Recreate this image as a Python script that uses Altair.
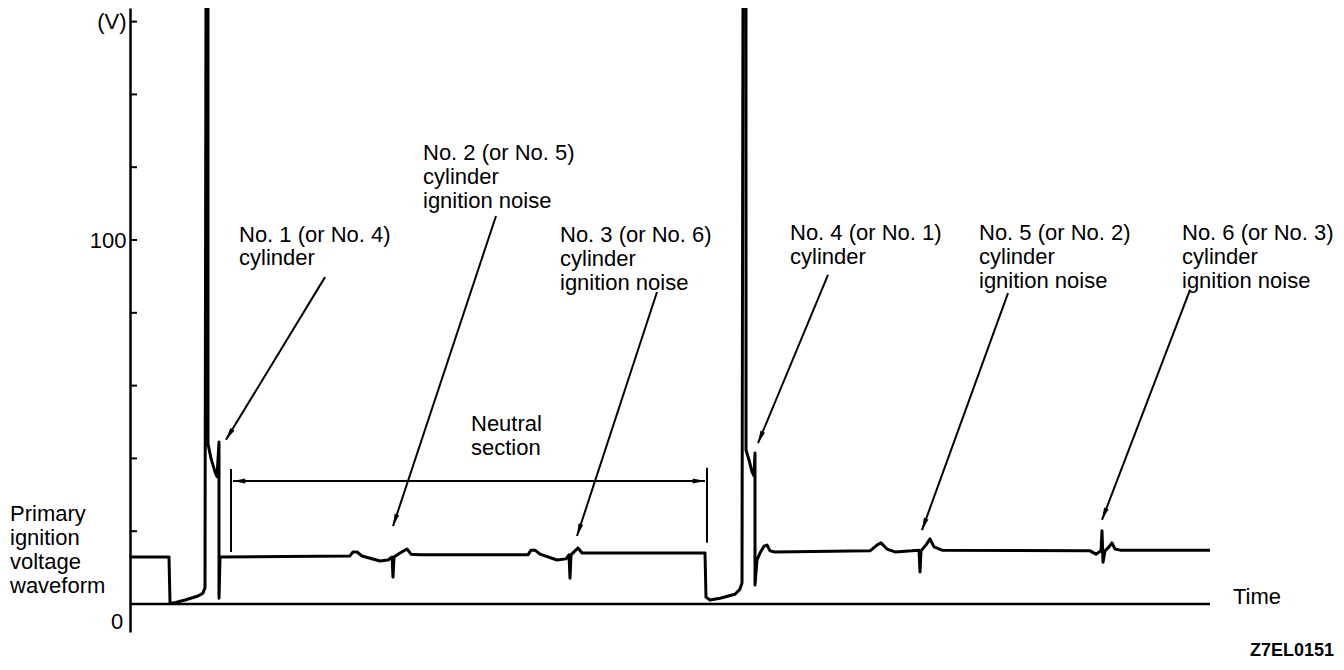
import math
import altair as alt
import pandas as pd

# ---------------- data (time in arbitrary units, voltage in V) ----------------
wave_t = [0, 39, 40, 43, 55, 68, 73, 75, 76, 78, 78, 81, 85, 87, 89, 89, 90,
          92, 220, 223, 227, 232, 250, 258, 262, 263, 264, 270, 277, 281, 290,
          398, 401, 405, 410, 427, 436, 439, 440, 441, 445, 448, 452, 460,
          575, 576, 580, 590, 605, 610, 612, 613, 616, 616, 619, 622, 624, 625, 625,
          627, 630, 634, 637, 640, 645,
          740, 747, 751, 757, 765, 782, 789, 790, 791, 796, 800, 804, 812,
          960, 966, 971, 972, 973, 975, 979, 982, 985, 990, 1080]
wave_v = [12.9, 12.9, 0.5, 0.2, 1.1, 2.2, 3.0, 4.5, 170, 170, 44.0, 40.0, 36.3, 35.0, 44.5, 1.6, 12.9,
          12.9, 13.2, 14.3, 14.3, 13.2, 11.8, 12.1, 12.9, 7.4, 12.9, 14.0, 15.1, 13.7, 13.5,
          13.5, 14.8, 14.8, 13.7, 12.1, 12.4, 13.5, 7.1, 13.5, 14.6, 15.4, 14.0, 14.0,
          14.0, 1.9, 1.1, 1.6, 2.7, 4.1, 5.8, 170, 170, 42.3, 39.6, 36.3, 35.2, 41.5, 5.2,
          12.1, 14.0, 15.9, 16.2, 14.6, 14.3,
          14.6, 16.2, 16.8, 15.1, 14.3, 14.6, 14.8, 8.8, 14.6, 16.2, 17.9, 15.7, 14.8,
          14.6, 13.7, 14.6, 20.1, 11.5, 14.6, 15.7, 16.8, 15.1, 14.8, 14.8]

y_tick_values = [20, 40, 60, 80, 100, 120, 140, 160]
y_label_values = [100, 160]

# leader arrows: start (t0, v0) -> tip (t1, v1)
arrow_t0 = [195, 366, 527, 698, 878, 1060]
arrow_v0 = [89.8, 106.6, 85.7, 90.4, 85.4, 86.3]
arrow_t1 = [96, 263, 447, 628, 792, 972]
arrow_v1 = [45.1, 21.4, 18.7, 44.2, 20.3, 23.1]

# neutral section dimension
neutral_t = [101, 577]
neutral_v_top = [37.1, 37.4]
neutral_v_bot = [14.3, 16.8]
neutral_level = 33.8
neutral_arrow_t = [103, 575]

# annotation text lines
label_text = ["No. 1 (or No. 4)", "cylinder",
              "No. 2 (or No. 5)", "cylinder", "ignition noise",
              "No. 3 (or No. 6)", "cylinder", "ignition noise",
              "Neutral", "section",
              "No. 4 (or No. 1)", "cylinder",
              "No. 5 (or No. 2)", "cylinder", "ignition noise",
              "No. 6 (or No. 3)", "cylinder", "ignition noise",
              "Primary", "ignition", "voltage", "waveform",
              "Time"]
label_t = [109, 109,
           293, 293, 293,
           430, 430, 430,
           341, 341,
           660, 660,
           849, 849, 849,
           1052, 1052, 1052,
           -120, -120, -120, -120,
           1103]
label_v = [101.4, 95.1,
           123.9, 117.3, 110.7,
           101.4, 94.8, 88.2,
           49.5, 42.9,
           101.9, 95.3,
           101.9, 95.3, 88.7,
           101.9, 95.3, 88.7,
           24.7, 18.1, 11.5, 4.9,
           1.9]

time_end = 1080

# ---------------- layout ----------------
W, H = 1206, 624
T_DOM = [0, 1206]
V_DOM = [-7.69, 163.74]
sx = W / (T_DOM[1] - T_DOM[0])
sy = H / (V_DOM[1] - V_DOM[0])

FONT = "Liberation Sans"
FS = 22
xs = alt.Scale(domain=T_DOM, nice=False, zero=False)
ys = alt.Scale(domain=V_DOM, nice=False, zero=False)
yaxis = alt.Axis(values=y_label_values, ticks=False, grid=False, title=None,
                 labelExpr="datum.value == 160 ? '(V)' : datum.label",
                 domainColor="black", domainWidth=2.5, labelColor="black",
                 labelFont=FONT, labelFontSize=FS, labelPadding=4)


def X(f):
    return alt.X(f, type="quantitative", scale=xs, axis=None)


def Y(f):
    return alt.Y(f, type="quantitative", scale=ys, axis=yaxis)


def head_angle(t0, v0, t1, v1):
    dx = (t1 - t0) * sx
    dy = -(v1 - v0) * sy
    return (math.degrees(math.atan2(dx, -dy)) + 360) % 360


wave_df = pd.DataFrame({"t": wave_t, "v": wave_v, "i": range(len(wave_t))})
wave = alt.Chart(wave_df).mark_line(color="black", strokeWidth=3, clip=True,
                                    strokeJoin="round").encode(
    x=X("t"), y=Y("v"), order=alt.Order("i:Q"))

time_df = pd.DataFrame({"t": [0], "t2": [time_end], "v": [0]})
time_line = alt.Chart(time_df).mark_rule(color="black", strokeWidth=2.5).encode(
    x=X("t"), x2="t2", y=Y("v"))

tick_df = pd.DataFrame({"t": [0] * len(y_tick_values), "t2": [7] * len(y_tick_values),
                        "v": y_tick_values})
ticks = alt.Chart(tick_df).mark_rule(color="black", strokeWidth=2).encode(
    x=X("t"), x2="t2", y=Y("v"))

arrow_df = pd.DataFrame({"t0": arrow_t0, "v0": arrow_v0, "t1": arrow_t1, "v1": arrow_v1})
arrow_lines = alt.Chart(arrow_df).mark_rule(color="black", strokeWidth=2).encode(
    x=X("t0"), y=Y("v0"), x2="t1", y2="v1")

heads_t = list(arrow_t1) + neutral_arrow_t
heads_v = list(arrow_v1) + [neutral_level, neutral_level]
heads_a = [head_angle(a, b, c, d) for a, b, c, d in zip(arrow_t0, arrow_v0, arrow_t1, arrow_v1)]
heads_a += [270, 90]
head_df = pd.DataFrame({"t": heads_t, "v": heads_v, "a": heads_a})
heads = alt.Chart(head_df).mark_point(
    shape="M0,0L0.4,2L-0.4,2Z", filled=True, size=150, color="black", opacity=1,
    strokeWidth=0).encode(x=X("t"), y=Y("v"), angle=alt.Angle("a:Q", scale=None))

ext_df = pd.DataFrame({"t": neutral_t, "v": neutral_v_top, "v2": neutral_v_bot})
ext = alt.Chart(ext_df).mark_rule(color="black", strokeWidth=2).encode(
    x=X("t"), y=Y("v"), y2="v2")

dim_df = pd.DataFrame({"t": [neutral_arrow_t[0]], "t2": [neutral_arrow_t[1]], "v": [neutral_level]})
dim = alt.Chart(dim_df).mark_rule(color="black", strokeWidth=2).encode(
    x=X("t"), x2="t2", y=Y("v"))

text_df = pd.DataFrame({"t": label_t, "v": label_v, "s": label_text})
texts = alt.Chart(text_df).mark_text(align="left", baseline="middle", font=FONT,
                                     fontSize=FS, color="black").encode(
    x=X("t"), y=Y("v"), text="s:N")

zero_df = pd.DataFrame({"t": [-13], "v": [-4.9], "s": ["0"]})
zero = alt.Chart(zero_df).mark_text(align="center", baseline="middle", font=FONT,
                                    fontSize=FS, color="black").encode(
    x=X("t"), y=Y("v"), text="s:N")

code_df = pd.DataFrame({"t": [1120], "v": [-13.0], "s": ["Z7EL0151"]})
code = alt.Chart(code_df).mark_text(align="left", baseline="middle", font=FONT,
                                    fontSize=18, fontWeight="bold", color="black").encode(
    x=X("t"), y=Y("v"), text="s:N")

chart = alt.layer(wave, time_line, ticks, arrow_lines, heads, ext, dim, texts, zero, code).properties(
    width=W, height=H, autosize="none",
    padding={"left": 122, "top": 0, "right": 0, "bottom": 30},
    background="white",
).configure_view(stroke=None)

chart.save("out.html", embed_options={"renderer": "svg", "actions": False})
